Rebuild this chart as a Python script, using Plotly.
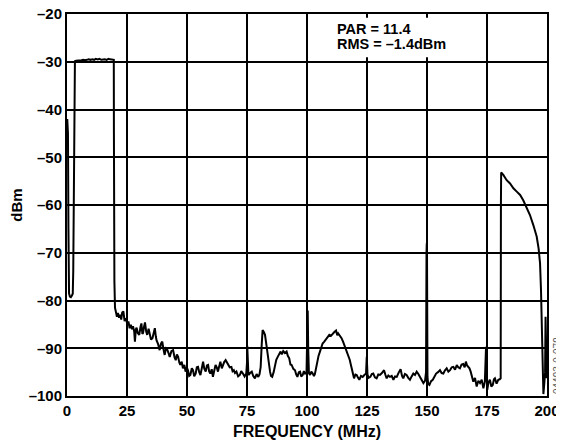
import plotly.graph_objects as go

# spectrum (MHz, dBm), in pieces
edge_freq = [0.1, 0.4, 0.6, 0.85, 1.2, 1.6, 2.0, 2.4, 2.6, 2.9, 3.1, 3.3]
edge_dbm = [-42.0, -45.0, -65.0, -78.5, -79.2, -79.3, -79.0, -78.6, -74.0, -55.0, -40.0, -29.9]

band_freq = [3.8, 4.5, 5.3, 6.0, 6.8, 7.5, 8.3, 9.0, 9.8, 10.5, 11.3, 12.0,
             12.8, 13.5, 14.3, 15.0, 15.8, 16.5, 17.3, 18.0, 18.8, 19.4]
band_dbm = [-29.8, -29.8, -29.7, -29.7, -29.6, -29.7, -29.6, -29.5, -29.6, -29.5, -29.6, -29.4,
            -29.5, -29.4, -29.6, -29.5, -29.5, -29.6, -29.4, -29.5, -29.5, -29.6]

drop_freq = [19.5, 19.55, 19.6, 19.75, 20.0, 20.4, 20.8]
drop_dbm = [-29.6, -45.0, -64.0, -76.0, -81.5, -82.5, -83.4]

low_freq = [21.2, 21.7, 22.1, 22.6, 23.0, 23.5, 24.0, 24.6, 25.1, 25.6, 26.1, 26.6,
            27.1, 27.5, 28.0, 28.3, 28.7, 29.0, 29.5, 30.1, 30.6, 31.0, 31.4, 31.7,
            32.1, 32.5, 33.0, 33.4, 34.0, 34.5, 35.0, 35.6, 36.1, 36.6, 37.0, 37.3,
            38.0, 38.6, 39.2, 39.7, 40.2, 40.7, 41.2, 41.7, 42.3, 42.8, 43.5, 44.2,
            44.8, 45.3, 45.8, 46.3, 46.8, 47.2, 47.8, 48.3, 48.9, 49.4, 49.9, 50.4,
            50.9, 51.4, 52.0, 52.5, 53.0, 53.6, 54.1, 54.6, 55.1, 55.6, 56.2, 56.7,
            57.2, 57.8, 58.3, 58.8, 59.2, 59.7, 60.3, 60.8, 61.3, 61.9, 62.4, 62.9,
            63.4, 63.9, 64.5, 65.0, 65.5, 66.1, 66.6, 67.1, 67.8, 68.5, 69.0, 69.5,
            70.0, 70.6, 71.3, 72.0, 72.6, 73.3, 74.0, 74.7, 75.0, 75.1, 75.3, 75.6]
low_dbm = [-82.6, -83.6, -83.0, -84.0, -82.5, -82.3, -84.3, -83.7, -85.0, -84.4, -85.8, -85.1,
           -86.0, -85.4, -86.5, -88.6, -86.0, -85.7, -86.8, -87.2, -85.6, -84.8, -87.0, -86.8,
           -85.5, -84.6, -86.5, -87.2, -85.9, -86.8, -88.2, -87.9, -86.4, -85.8, -87.5, -88.3,
           -89.2, -90.4, -89.0, -88.6, -90.2, -91.4, -90.0, -90.2, -91.0, -91.8, -90.6, -90.4,
           -91.9, -92.5, -91.3, -91.8, -93.0, -93.5, -92.8, -94.2, -93.5, -94.9, -94.0, -94.6,
           -95.8, -95.6, -94.2, -94.6, -95.9, -95.3, -94.0, -93.9, -95.0, -95.6, -94.1, -92.8,
           -94.3, -94.9, -93.6, -93.5, -94.8, -95.3, -94.4, -96.0, -94.8, -93.5, -94.0, -94.9,
           -93.8, -92.8, -94.2, -93.5, -92.9, -92.5, -93.0, -93.2, -94.0, -93.9, -94.8, -94.6,
           -95.2, -94.9, -95.9, -95.6, -94.8, -95.3, -95.9, -95.3, -93.0, -89.5, -94.0, -95.6]

mid_freq = [76.3, 77.0, 77.6, 78.3, 79.0, 79.7, 80.2, 80.7, 81.1, 81.5, 82.0, 82.5,
            83.0, 83.5, 84.0, 84.6, 85.0, 85.5, 86.1, 86.7, 87.2, 87.8, 88.4, 89.0,
            89.5, 90.1, 90.8, 91.5, 92.0, 92.6, 93.1, 93.6, 94.3, 95.0, 95.5, 96.0,
            96.6, 97.1, 97.6, 98.2, 98.7, 99.2, 99.8, 100.1, 100.3, 100.5, 100.8, 101.3,
            101.8, 102.4, 102.9, 103.3, 103.8, 104.3, 104.8, 105.4, 106.0, 106.5, 107.2, 107.9,
            108.6, 109.3, 110.0, 110.7, 111.4, 112.1, 112.6, 113.0, 113.7, 114.4, 115.1, 115.8,
            116.5, 117.2, 117.8, 118.3, 119.0, 119.6, 120.2, 120.7, 121.3, 121.8, 122.5, 123.2,
            123.9, 124.6, 124.9, 125.2]
mid_dbm = [-95.2, -94.9, -95.8, -96.3, -95.4, -96.0, -95.5, -93.9, -89.5, -86.2, -86.6, -87.2,
           -89.0, -91.1, -93.2, -94.9, -95.8, -96.0, -95.0, -93.5, -92.4, -91.8, -91.2, -90.7,
           -91.3, -90.6, -91.0, -90.7, -91.6, -92.1, -93.4, -93.5, -94.3, -94.6, -95.5, -96.0,
           -95.0, -94.9, -95.9, -95.6, -94.8, -95.3, -95.0, -90.0, -82.1, -90.0, -95.2, -95.6,
           -94.9, -95.3, -95.8, -95.4, -94.0, -92.8, -91.6, -90.7, -89.8, -89.0, -88.6, -88.1,
           -87.6, -87.2, -87.4, -86.9, -86.6, -86.3, -87.3, -86.9, -87.4, -87.9, -88.7, -89.7,
           -90.4, -91.3, -92.4, -93.5, -95.0, -96.3, -95.5, -95.6, -96.2, -96.6, -95.8, -96.0,
           -95.6, -95.3, -91.8, -95.5]

high_freq = [125.7, 126.4, 127.0, 127.6, 128.3, 129.0, 129.7, 130.4, 131.2, 132.1, 132.7, 133.2,
             133.9, 134.6, 135.3, 136.0, 136.7, 137.4, 138.2, 139.0, 139.6, 140.1, 140.8, 141.5,
             142.2, 142.9, 143.6, 144.3, 145.0, 145.7, 146.4, 147.1, 147.8, 148.5, 149.2, 149.6,
             149.8, 149.9, 150.0, 150.2, 150.5, 151.0, 151.7, 152.4, 153.1, 153.8, 154.6, 155.4,
             156.1, 156.8, 157.5, 158.2, 158.9, 159.6, 160.3, 161.0, 161.7, 162.4, 163.0, 163.7,
             164.4, 165.1, 165.7, 166.2, 166.7, 167.2, 167.7, 168.2, 168.8, 169.3, 170.0, 170.7,
             171.4, 172.1, 172.8, 173.5, 174.1, 174.5, 174.6, 174.8, 175.1, 175.6, 176.2, 176.8,
             177.4, 177.9, 178.3, 179.0, 179.7, 180.3, 180.7]
high_dbm = [-96.2, -96.0, -95.4, -95.3, -96.1, -96.3, -95.5, -95.6, -95.2, -94.6, -95.6, -96.3,
            -95.7, -96.0, -95.8, -96.6, -95.9, -96.0, -95.1, -94.4, -95.8, -96.3, -95.4, -95.6,
            -96.2, -96.6, -95.9, -95.3, -95.6, -94.9, -95.4, -96.0, -96.5, -97.3, -96.8, -95.0,
            -70.0, -68.0, -70.0, -96.0, -97.5, -97.7, -96.9, -96.6, -95.8, -95.3, -95.0, -94.6,
            -95.2, -95.3, -94.6, -94.2, -94.9, -94.6, -94.0, -93.9, -94.5, -93.5, -94.0, -94.2,
            -93.4, -93.3, -94.0, -92.8, -93.6, -93.9, -94.2, -94.9, -96.0, -97.0, -96.2, -98.0,
            -96.8, -97.3, -96.6, -98.4, -97.0, -92.0, -89.7, -95.0, -98.7, -97.2, -96.6, -98.0,
            -97.7, -96.5, -96.3, -97.4, -96.6, -96.5, -96.3]

top_freq = [180.8, 180.9, 181.8, 182.5, 183.2, 184.6, 186.0, 187.4, 188.8, 190.1, 191.5, 192.9,
            194.3, 195.7, 196.5, 197.1, 197.5, 197.8, 198.2, 198.5, 198.9, 199.2, 199.4, 199.6,
            199.9]
top_dbm = [-60.0, -53.2, -53.7, -54.3, -54.8, -55.5, -56.5, -57.2, -57.9, -59.0, -60.4, -62.1,
           -64.2, -66.6, -69.1, -72.2, -77.8, -84.8, -96.6, -99.6, -97.2, -95.0, -83.4, -90.0,
           -96.3]

freq = edge_freq + band_freq + drop_freq + low_freq + mid_freq + high_freq + top_freq
dbm = edge_dbm + band_dbm + drop_dbm + low_dbm + mid_dbm + high_dbm + top_dbm

x_ticks = [0, 25, 50, 75, 100, 125, 150, 175, 200]
y_ticks = [-100, -90, -80, -70, -60, -50, -40, -30, -20]
y_labels = [f"–{abs(v)}" for v in y_ticks]

FONT = "Liberation Sans, Arial, sans-serif"

fig = go.Figure(go.Scatter(x=freq, y=dbm, mode="lines",
                           line=dict(color="black", width=2), hoverinfo="skip"))

axis_common = dict(showgrid=True, gridcolor="black", gridwidth=1.5,
                   showline=True, linecolor="black", linewidth=2, mirror=True,
                   zeroline=False, ticks="", automargin=False, ticklabeloverflow="allow",
                   tickfont=dict(family=FONT, size=15, color="black", weight="bold"))

fig.update_xaxes(range=[0, 200], tickvals=x_ticks, ticktext=[str(v) for v in x_ticks],
                 title=dict(text="<b>FREQUENCY (MHz)</b>", standoff=8,
                            font=dict(family=FONT, size=16, color="black")),
                 **axis_common)
fig.update_yaxes(range=[-100, -20], tickvals=y_ticks, ticktext=y_labels,
                 title=dict(text="<b>dBm</b>", standoff=6,
                            font=dict(family=FONT, size=15, color="black")),
                 **axis_common)

# white box behind the PAR / RMS note, hiding the grid there
fig.add_shape(type="rect", xref="paper", yref="paper", x0=0.55, x1=0.815, y0=0.887, y1=0.99,
              fillcolor="white", line=dict(width=0), layer="above")

note_font = dict(family=FONT, size=14.5, color="black")
fig.add_annotation(x=0.559, y=0.987, xref="paper", yref="paper", xanchor="left", yanchor="top",
                   text="<b>PAR = 11.4</b>", showarrow=False, font=note_font)
fig.add_annotation(x=0.559, y=0.947, xref="paper", yref="paper", xanchor="left", yanchor="top",
                   text="<b>RMS = –1.4dBm</b>", showarrow=False, font=note_font)
fig.add_annotation(x=1.0, y=0.0, xref="paper", yref="paper", xanchor="left", yanchor="bottom",
                   xshift=3, text="04493-0-079", textangle=-90, showarrow=False,
                   font=dict(family=FONT, size=10, color="#555555"))

# the page body adds an 8 px offset, so the figure is made 8 px smaller
fig.update_layout(width=556, height=439, margin=dict(l=59, r=17, t=6, b=51),
                  plot_bgcolor="white", paper_bgcolor="white", showlegend=False)

fig.write_html("out.html")
